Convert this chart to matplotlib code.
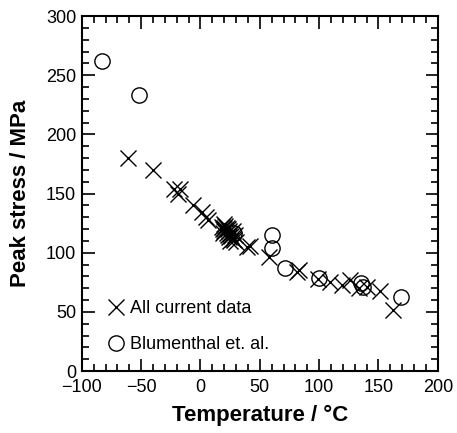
import matplotlib
matplotlib.use("Agg")
import matplotlib.pyplot as plt
from matplotlib.ticker import MultipleLocator

plt.rcParams['font.family'] = ['Liberation Sans', 'DejaVu Sans']

current_T = [-61, -40, -22, -17, -19, -6, 1, 6, 5,
             18, 19, 20, 20, 21, 21, 22, 22, 23, 23, 24, 24, 25, 25, 26, 27, 28, 29, 30, 27, 20, 19,
             39, 42, 58, 81, 83, 99, 109, 119, 126, 134, 140, 151, 162]
current_S = [180, 170, 154, 154, 150, 140, 134, 128, 130,
             122, 120, 121, 118, 123, 119, 117, 121, 120, 115, 118, 113, 116, 110, 114, 112, 111, 115, 109, 118, 124, 117,
             105, 106, 96, 84, 85, 78, 75, 73, 77, 70, 71, 68, 52]

blum_T = [-83, -52, 28, 60, 60, 71, 100, 135, 137, 169]
blum_S = [262, 233, 117, 115, 104, 87, 79, 74, 71, 63]

x_ticks = [-100, -50, 0, 50, 100, 150, 200]
x_tick_labels = ['\u2212100', '\u221250', '0', '50', '100', '150', '200']

fig = plt.figure(figsize=(4.57, 4.33), dpi=100)
ax = fig.add_axes([0.179, 0.143, 0.779, 0.820])

ax.plot(current_T, current_S, linestyle='none', marker='x', markersize=12,
        markeredgewidth=1.0, color='black', label='All current data')
ax.plot(blum_T, blum_S, linestyle='none', marker='o', markersize=11,
        markerfacecolor='none', markeredgewidth=1.0, markeredgecolor='black',
        label='Blumenthal et. al.')

ax.set_xlim(-100, 200)
ax.set_ylim(0, 300)
ax.set_xticks(x_ticks)
ax.set_xticklabels(x_tick_labels)
ax.xaxis.set_minor_locator(MultipleLocator(10))
ax.yaxis.set_major_locator(MultipleLocator(50))
ax.yaxis.set_minor_locator(MultipleLocator(10))
ax.tick_params(which='both', direction='in', top=True, right=True, width=1.2)
ax.tick_params(which='major', length=9, labelsize=13)
ax.tick_params(axis='x', which='major', pad=6)
ax.tick_params(axis='y', which='major', pad=4)
ax.tick_params(which='minor', length=5)
for s in ax.spines.values():
    s.set_linewidth(1.5)

ax.set_xlabel('Temperature / \u00b0C', fontsize=16, fontweight='bold', labelpad=6)
ax.set_ylabel('Peak stress / MPa', fontsize=16, fontweight='bold', labelpad=11)

ax.legend(loc='lower left', bbox_to_anchor=(0.015, 0.0), frameon=False, fontsize=13,
          handletextpad=0.2, labelspacing=1.05, borderaxespad=0.6, handlelength=1.2)

fig.savefig('out.png', dpi=100)
